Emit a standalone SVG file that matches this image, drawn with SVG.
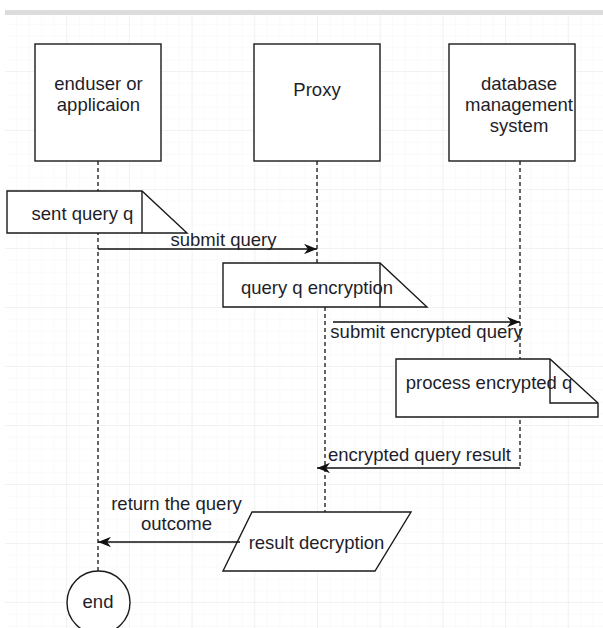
<svg xmlns="http://www.w3.org/2000/svg" width="603" height="628" viewBox="0 0 603 628">
<style>
.shape{fill:#fff;stroke:#1a1a1a;stroke-width:1.4}
.inner{fill:none;stroke:#1a1a1a;stroke-width:1.4}
.life{fill:none;stroke:#333;stroke-width:1.5;stroke-dasharray:4 3}
.msg{fill:none;stroke:#111;stroke-width:1.4}
text{font-family:"Liberation Sans",Arial,sans-serif;font-size:18.5px;fill:#1e1e2a;text-anchor:middle}
</style>
<defs>
<pattern id="minor" patternUnits="userSpaceOnUse" x="3.5" y="12" width="12.54" height="11.8">
<path d="M0,0 H12.54 M0,0 V11.8" fill="none" stroke="#f5f5f5" stroke-width="1"/>
</pattern>
<pattern id="major" patternUnits="userSpaceOnUse" x="3.5" y="12" width="62.7" height="59">
<path d="M0,0 H62.7 M0,0 V59" fill="none" stroke="#e9e9e9" stroke-width="1"/>
</pattern>
<marker id="arr" viewBox="0 0 10 8" refX="10" refY="4" markerWidth="13" markerHeight="10.4" markerUnits="userSpaceOnUse" orient="auto">
<path d="M0,0 L10,4 L0,8 L3,4 Z" fill="#111"/>
</marker>
</defs>
<rect x="0" y="0" width="603" height="628" fill="#fff"/>
<rect x="5" y="15" width="598" height="613" fill="url(#minor)"/>
<rect x="5" y="15" width="598" height="613" fill="url(#major)"/>
<rect x="5" y="10" width="598" height="5" fill="#dcdcdc"/>

<g id="lifelines">
<line class="life" x1="98" y1="161" x2="98" y2="571"/>
<line class="life" x1="317" y1="161" x2="317" y2="263"/>
<line class="life" x1="325" y1="307" x2="325" y2="512"/>
<line class="life" x1="520" y1="161" x2="520" y2="468"/>
</g>

<g id="enduser">
<rect class="shape" x="35" y="44" width="126" height="117"/>
<text x="98.5" y="89.5">enduser or</text>
<text x="98.5" y="110.5">applicaion</text>
</g>
<g id="proxy">
<rect class="shape" x="254" y="44" width="126" height="117"/>
<text x="317" y="95.5">Proxy</text>
</g>
<g id="dbms">
<rect class="shape" x="449" y="44" width="126" height="117"/>
<text x="519" y="89.5">database</text>
<text x="519" y="111">management</text>
<text x="519" y="131.5">system</text>
</g>

<g id="sent-query">
<polygon class="shape" points="7,191 142,191 187,233 7,233"/>
<line class="inner" x1="142" y1="191" x2="142" y2="233"/>
<text x="82.5" y="219.5">sent query q</text>
</g>
<g id="query-encryption">
<polygon class="shape" points="223,263 380,263 427,307 223,307"/>
<line class="inner" x1="380" y1="263" x2="380" y2="307"/>
<text x="317" y="293.5">query q encryption</text>
</g>
<g id="process-encrypted">
<polygon class="shape" points="396,359 550,359 598,403 598,417 396,417"/>
<polyline class="inner" points="550,359 550,403 598,403"/>
<text x="489" y="388.5">process encrypted q</text>
</g>
<g id="result-decryption">
<polygon class="shape" points="252,512 411,512 375,571 223,571"/>
<text x="316.5" y="548.5">result decryption</text>
</g>
<g id="end">
<circle class="shape" cx="98.5" cy="602.5" r="31.5"/>
<text x="98" y="607.5">end</text>
</g>

<g id="connectors">
<line class="msg" x1="98" y1="249" x2="317" y2="249" marker-end="url(#arr)"/>
<text x="223.5" y="246">submit query</text>
<line class="msg" x1="333" y1="322" x2="520" y2="322" marker-end="url(#arr)"/>
<text x="426.5" y="337.5">submit encrypted query</text>
<line class="msg" x1="520" y1="468" x2="317" y2="468" marker-end="url(#arr)"/>
<text x="419.5" y="460.5">encrypted query result</text>
<line class="msg" x1="240" y1="542" x2="98" y2="542" marker-end="url(#arr)"/>
<text x="176.5" y="509.5">return the query</text>
<text x="176.5" y="529.5">outcome</text>
</g>
</svg>
